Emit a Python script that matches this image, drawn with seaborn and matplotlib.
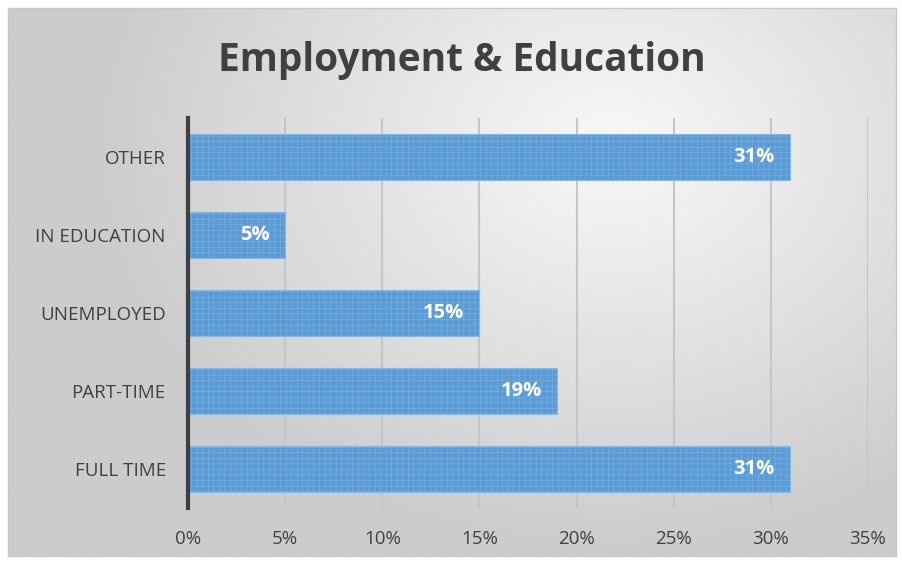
import numpy as np
import pandas as pd
import matplotlib
matplotlib.use("Agg")
import matplotlib.pyplot as plt
import seaborn as sns
from matplotlib.ticker import FuncFormatter, MultipleLocator

categories = ["OTHER", "IN EDUCATION", "UNEMPLOYED", "PART-TIME", "FULL TIME"]
values = [31, 5, 15, 19, 31]
title = "Employment & Education"

sns.set_theme(style="white")
plt.rcParams['font.family'] = ['Open Sans', 'DejaVu Sans']
plt.rcParams['hatch.linewidth'] = 0.3

fig = plt.figure(figsize=(9.02, 5.64), dpi=100)
fig.patch.set_facecolor("white")

# background gradient panel
bg = fig.add_axes([8/902, 8/564, 888/902, 548/564])
h, w = 200, 320
yy, xx = np.mgrid[0:h, 0:w]
cx, cy = 0.68 * w, 0.25 * h
d = np.sqrt(((xx - cx) / w) ** 2 + ((yy - cy) / h * 0.8) ** 2)
val = 0.975 - 0.30 * d
val = np.clip(val, 0.80, 0.975)
bg.imshow(np.dstack([val, val, val]), aspect="auto", extent=[0, 1, 0, 1], interpolation="bilinear")
bg.set_xticks([]); bg.set_yticks([])
for s in bg.spines.values():
    s.set_color("#c8c8c8"); s.set_linewidth(1)
bg.set_zorder(0)

ax = fig.add_axes([188/902, 1 - 508/564, 680/902, 390/564])
ax.set_zorder(1)
ax.patch.set_alpha(0)

df = pd.DataFrame({"cat": categories, "val": values})
sns.barplot(data=df, y="cat", x="val", order=categories, orient="h",
            color="#5b9bd5", saturation=1, width=0.6, ax=ax,
            edgecolor="#86b6e4", linewidth=0.8, hatch="+++", zorder=3)

ax.set_xlim(0, 35)
ax.xaxis.set_major_locator(MultipleLocator(5))
ax.xaxis.set_major_formatter(FuncFormatter(lambda v, p: f"{int(v)}%"))
ax.grid(axis="x", color="#c6c6c6", linewidth=1.5, zorder=0)
ax.set_axisbelow(True)
for s in ["top", "right", "bottom"]:
    ax.spines[s].set_visible(False)
ax.spines["left"].set_color("#404040")
ax.spines["left"].set_linewidth(3)
ax.spines["left"].set_zorder(5)
ax.set_xlabel(""); ax.set_ylabel("")
ax.tick_params(axis="both", length=0, labelsize=13.5, labelcolor="#404040")
ax.tick_params(axis="x", pad=16)
ax.tick_params(axis="y", pad=16)

for i, v in enumerate(values):
    ax.text(v - 0.8, i, f"{v}%", ha="right", va="center", color="white",
            fontsize=14.5, fontweight="bold", zorder=6)

fig.text(462/902, 1 - 60/564, title, ha="center", va="center",
         fontsize=28, fontweight="bold", color="#404040")

fig.savefig("out.png", dpi=100)
